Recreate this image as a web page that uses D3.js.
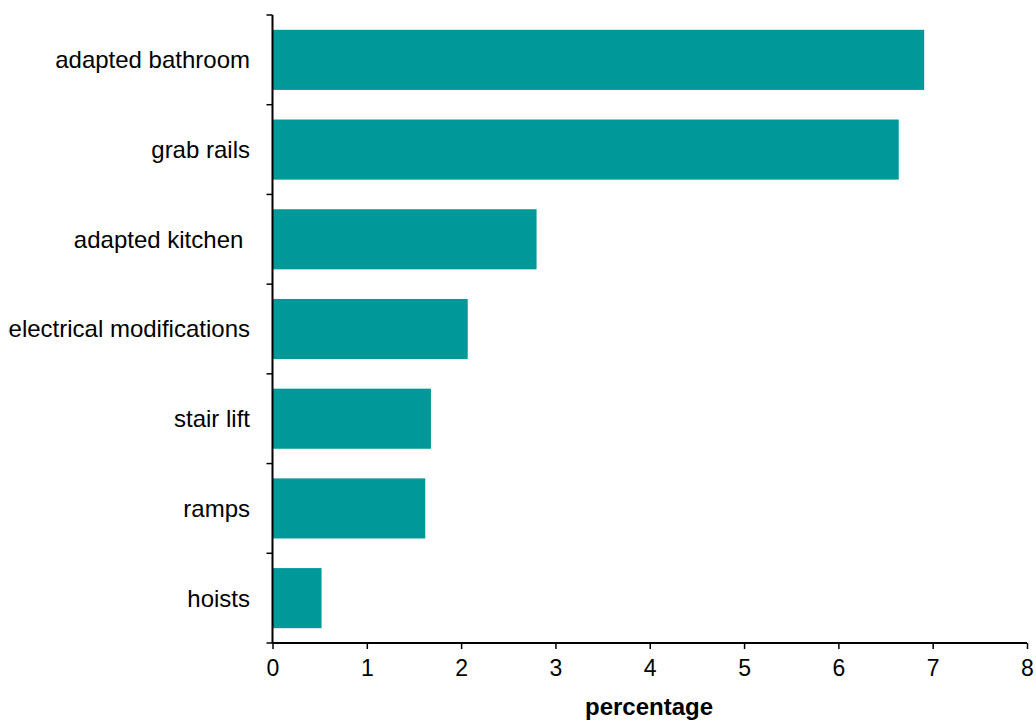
<!DOCTYPE html>
<html><head><meta charset="utf-8">
<script src="https://cdn.jsdelivr.net/npm/d3@7"></script>
<style>body{margin:0;background:#fff}svg{display:block}text{font-family:"Liberation Sans",Arial,sans-serif;white-space:pre}</style>
</head><body>
<svg id="c" width="1036" height="720"></svg>
<script>
const categories = ["adapted bathroom","grab rails","adapted kitchen ","electrical modifications","stair lift","ramps","hoists"];
const values = [6.91,6.64,2.80,2.07,1.68,1.62,0.52];
const xTicks = [0,1,2,3,4,5,6,7,8];

const svg = d3.select("#c");
const m = {left:272.5, right:1027, top:15, bottom:643};
const x = d3.scaleLinear().domain([0,8]).range([m.left,m.right]);
const y = d3.scaleBand().domain(categories).range([m.top,m.bottom]).paddingInner(0.33).paddingOuter(0.165);

svg.selectAll("rect.bar").data(categories).join("rect")
  .attr("x", x(0)).attr("y", d=>y(d))
  .attr("width", (d,i)=>x(values[i])-x(0)).attr("height", y.bandwidth())
  .attr("fill","#009999");

const step = (m.bottom-m.top)/categories.length;
svg.append("line").attr("x1",m.left).attr("x2",m.left).attr("y1",m.top).attr("y2",m.bottom).attr("stroke","#000").attr("stroke-width",2);
svg.selectAll("line.yt").data(d3.range(categories.length+1)).join("line")
  .attr("x1",m.left-6).attr("x2",m.left).attr("y1",i=>m.top+i*step).attr("y2",i=>m.top+i*step)
  .attr("stroke","#000").attr("stroke-width",1.5);
svg.selectAll("text.yl").data(categories).join("text")
  .attr("x",250).attr("y",d=>y(d)+y.bandwidth()/2).attr("dy","0.35em")
  .attr("text-anchor","end").attr("font-size",24).text(d=>d);

const xa = svg.append("g").attr("transform",`translate(0,${m.bottom})`)
  .call(d3.axisBottom(x).tickValues(xTicks).tickSize(6).tickPadding(11).tickFormat(d3.format("d")));
xa.select(".domain").attr("stroke-width",2).attr("d",`M${m.left},0H${m.right}`);
xa.selectAll(".tick line").attr("stroke-width",1.5);
xa.selectAll(".tick text").attr("font-size",23).attr("font-family","Liberation Sans, Arial, sans-serif");

svg.append("text").attr("x",649).attr("y",715).attr("text-anchor","middle")
  .attr("font-size",24).attr("font-weight","bold").text("percentage");
</script>
</body></html>
